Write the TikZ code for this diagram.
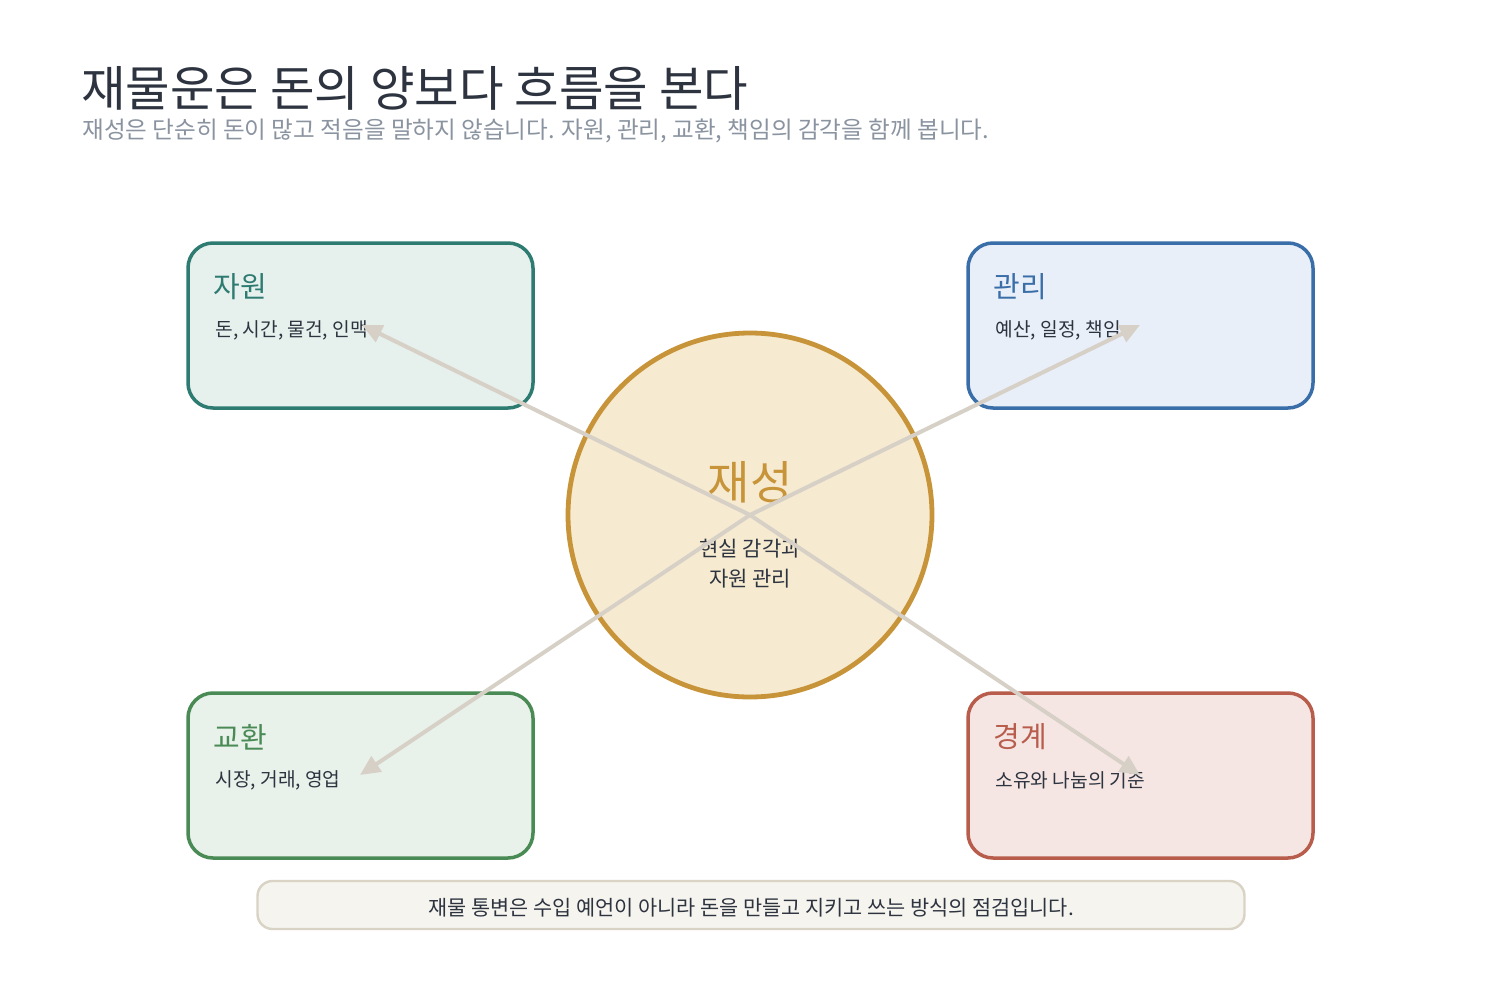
\documentclass[tikz,border=0pt]{standalone}
\usepackage{fontspec}
\setmainfont{Noto Sans CJK KR}
\usetikzlibrary{arrows.meta}
\definecolor{ink}{HTML}{2D3440}
\definecolor{subink}{HTML}{8A93A0}
\definecolor{tealB}{HTML}{2E7B72}\definecolor{tealF}{HTML}{E6F0EC}
\definecolor{blueB}{HTML}{3A6EA8}\definecolor{blueF}{HTML}{E8EFF8}
\definecolor{grnB}{HTML}{4A8A55}\definecolor{grnF}{HTML}{E8F1EA}
\definecolor{redB}{HTML}{B85C4C}\definecolor{redF}{HTML}{F5E6E3}
\definecolor{goldB}{HTML}{C8943A}\definecolor{goldF}{HTML}{F6EAD0}
\definecolor{arrowc}{HTML}{D6D0C6}
\definecolor{barF}{HTML}{F6F4EE}\definecolor{barB}{HTML}{D9D3C5}
\tikzset{
  card/.style={draw=#1B, fill=#1F, line width=1.75pt, rounded corners=12.5pt, minimum width=172.5pt, minimum height=82.5pt, outer sep=0pt, anchor=north west},
  cardtitle/.style={text=#1B, font=\fontsize{14.5pt}{17pt}\selectfont, anchor=west, inner sep=0pt},
  cardtext/.style={text=ink, font=\fontsize{9.6pt}{11pt}\selectfont, anchor=west, inner sep=0pt},
  link/.style={draw=arrowc, line width=2pt, -{Triangle[length=10pt,width=9pt]}},
}
\begin{document}
\begin{tikzpicture}[x=0.5pt,y=-0.5pt]
\path[use as bounding box, fill=white] (0,0) rectangle (1500,990);
% title
\node[anchor=west, inner sep=0pt, text=ink, font=\fontsize{24.2pt}{28pt}\selectfont] (title) at (81,88) {재물운은 돈의 양보다 흐름을 본다};
\node[anchor=west, inner sep=0pt, text=subink, font=\fontsize{11.8pt}{14pt}\selectfont] (sub) at (82,131) {재성은 단순히 돈이 많고 적음을 말하지 않습니다. 자원, 관리, 교환, 책임의 감각을 함께 봅니다.};
% cards
\node[card=teal] (b1) at (188,243) {};
\node[cardtitle=teal] (t1) at (213,287) {자원};
\node[cardtext] (s1) at (215,330) {돈, 시간, 물건, 인맥};
\node[card=blue] (b2) at (968,243) {};
\node[cardtitle=blue] (t2) at (993,287) {관리};
\node[cardtext] (s2) at (995,330) {예산, 일정, 책임};
\node[card=grn] (b3) at (188,693) {};
\node[cardtitle=grn] (t3) at (213,737) {교환};
\node[cardtext] (s3) at (215,780) {시장, 거래, 영업};
\node[card=red] (b4) at (968,693) {};
\node[cardtitle=red] (t4) at (993,737) {경계};
\node[cardtext] (s4) at (995,780) {소유와 나눔의 기준};
% center
\node[circle, draw=goldB, fill=goldF, line width=2.4pt, minimum size=182pt, outer sep=0pt, inner sep=0pt] (c) at (750,515) {};
\node[inner sep=0pt, text=goldB, font=\fontsize{23pt}{27pt}\selectfont] (ct) at (750,482) {재성};
\node[inner sep=0pt, text=ink, font=\fontsize{10.5pt}{15pt}\selectfont, align=center] (cs) at (750,564) {현실 감각과\\자원 관리};
% bottom bar
\node[draw=barB, fill=barF, line width=1.2pt, rounded corners=7.5pt, minimum width=493.5pt, minimum height=24pt, outer sep=0pt, anchor=north west] (bar) at (257.5,881) {};
\node[inner sep=0pt, text=ink, font=\fontsize{10.4pt}{12pt}\selectfont] (bt) at ([yshift=-1.5pt]bar.center) {재물 통변은 수입 예언이 아니라 돈을 만들고 지키고 쓰는 방식의 점검입니다.};
% arrows
\coordinate (e1) at (362,325);
\coordinate (e2) at (1140,325);
\coordinate (e3) at (360,775);
\coordinate (e4) at (1140,775);
\draw[link] (c.center) -- (e1);
\draw[link] (c.center) -- (e2);
\draw[link] (c.center) -- (e3);
\draw[link] (c.center) -- (e4);
\end{tikzpicture}
\end{document}
